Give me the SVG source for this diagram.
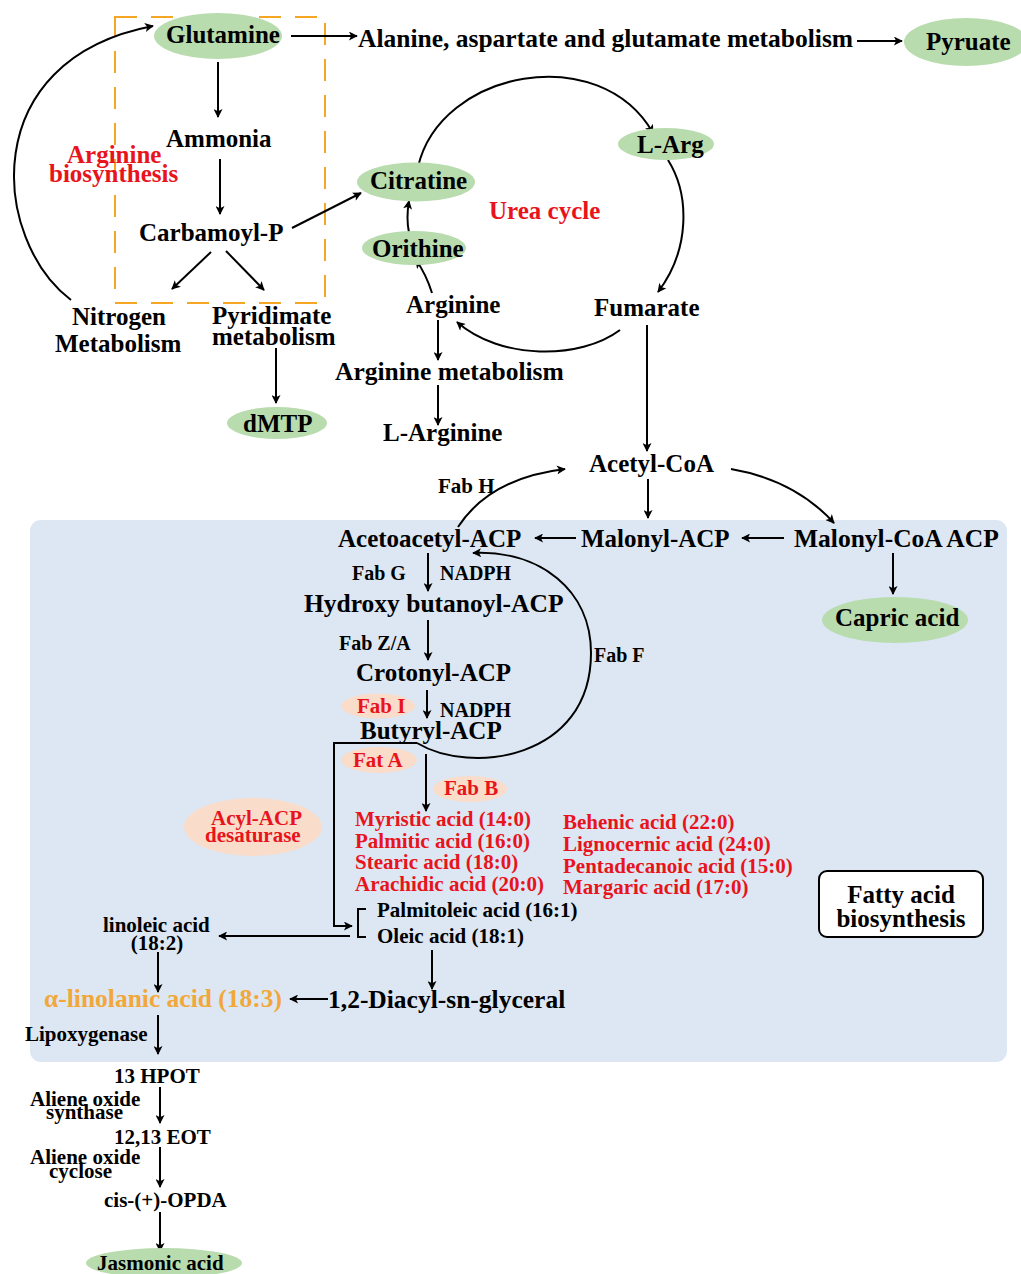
<svg xmlns="http://www.w3.org/2000/svg" width="1021" height="1274" viewBox="0 0 1021 1274">
<style>
text{font-family:"Liberation Serif","Times New Roman",serif;font-weight:bold;fill:#000}
.s25{font-size:25px}.s255{font-size:25.5px}.s21{font-size:21px}.s20{font-size:20px}
.red{fill:#e8141c}.org{fill:#f2a73a}
.g{fill:#b8dcae}.p{fill:#fadccb}
.c{stroke:#000;stroke-width:2;fill:none;marker-end:url(#ah)}
.l{stroke:#000;stroke-width:2;fill:none}
</style>
<defs>
<marker id="ah" viewBox="0 0 10 10" refX="9" refY="5" markerWidth="5" markerHeight="4.5" orient="auto" markerUnits="strokeWidth">
<path d="M0,0 L10,5 L0,10 L2.5,5 z" fill="#000"/>
</marker>
</defs>
<rect id="fatty-region" x="30" y="520" width="977" height="542" rx="11" fill="#dce7f3"/>
<rect id="arginine-region" x="115" y="17" width="210" height="286" fill="none" stroke="#f5a623" stroke-width="2" stroke-dasharray="22 14"/>

<g id="connectors">
<path class="c" d="M291,36 L357,36"/>
<path class="c" d="M857,41 L902,41"/>
<path class="c" d="M218,62 L218,117"/>
<path class="c" d="M220,159 L220,214"/>
<path class="c" d="M211,252 L172,289"/>
<path class="c" d="M226,251 L264,290"/>
<path class="c" d="M276,348 L276,403"/>
<path class="c" d="M71,300 C -8,240 -25,60 153,26"/>
<path class="c" d="M292,228 L361,193"/>
<path class="c" d="M409,233 Q 406,218 409,201"/>
<path class="c" d="M432,293 Q 426,274 416,260"/>
<path class="c" d="M418,167 C 440,70 600,40 653,133"/>
<path class="c" d="M668,160 C 690,195 690,250 658,292"/>
<path class="c" d="M620,330 C 580,360 500,360 457,322"/>
<path class="c" d="M438,320 L438,360"/>
<path class="c" d="M438,385 L438,425"/>
<path class="c" d="M647,325 L647,451"/>
<path class="c" d="M648,479 L648,518"/>
<path class="c" d="M731,469 Q 795,480 834,523"/>
<path class="c" d="M458,527 Q 490,478 565,469"/>
<path class="c" d="M576,538 L535,538"/>
<path class="c" d="M784,538 L742,538"/>
<path class="c" d="M893,553 L893,594"/>
<path class="c" d="M428,553 L428,591"/>
<path class="c" d="M428,620 L428,660"/>
<path class="c" d="M427,690 L427,718"/>
<path class="c" d="M417,743 C 470,775 591,760 591,653 C 591,590 540,550 473,553"/>
<path class="c" d="M426,754 L426,811"/>
<path class="c" d="M417,743 L334,743 L334,926 L352,926"/>
<path class="l" d="M366,909 L358,909 L358,937 L366,937"/>
<path class="c" d="M350,936 L219,936"/>
<path class="c" d="M158,952 L158,992"/>
<path class="c" d="M328,999 L290,999"/>
<path class="c" d="M432,950 L432,989"/>
<path class="c" d="M158,1015 L158,1054"/>
<path class="c" d="M160,1087 L160,1123"/>
<path class="c" d="M160,1147 L160,1187"/>
<path class="c" d="M160,1212 L160,1251"/>
</g>

<g id="glutamine"><ellipse class="g" cx="218" cy="36" rx="64" ry="23"/><text class="s25" x="166" y="43">Glutamine</text></g>
<g id="alanine-metabolism"><text class="s255" x="358" y="47">Alanine, aspartate and glutamate metabolism</text></g>
<g id="pyruate"><ellipse class="g" cx="966" cy="42" rx="62" ry="24"/><text class="s25" x="926" y="50">Pyruate</text></g>
<g id="ammonia"><text class="s25" x="166" y="147">Ammonia</text></g>
<g id="carbamoyl-p"><text class="s25" x="139" y="241">Carbamoyl-P</text></g>
<g id="arginine-biosynthesis-label"><text class="s25 red" x="67" y="163">Arginine</text><text class="s25 red" x="49" y="182">biosynthesis</text></g>
<g id="nitrogen-metabolism"><text class="s25" x="72" y="325">Nitrogen</text><text class="s25" x="55" y="352">Metabolism</text></g>
<g id="pyridimate-metabolism"><text class="s25" x="212" y="324">Pyridimate</text><text class="s25" x="212" y="345">metabolism</text></g>
<g id="dmtp"><ellipse class="g" cx="277" cy="423" rx="50" ry="16"/><text class="s25" x="243" y="432">dMTP</text></g>
<g id="citratine"><ellipse class="g" cx="416" cy="182" rx="59" ry="19.5"/><text class="s25" x="370" y="189">Citratine</text></g>
<g id="orithine"><ellipse class="g" cx="414" cy="248" rx="52" ry="17"/><text class="s25" x="372" y="257">Orithine</text></g>
<g id="l-arg"><ellipse class="g" cx="666" cy="144" rx="48" ry="16"/><text class="s25" x="637" y="153">L-Arg</text></g>
<g id="urea-cycle-label"><text class="s25 red" x="489" y="219">Urea cycle</text></g>
<g id="arginine"><text class="s25" x="406" y="313">Arginine</text></g>
<g id="fumarate"><text class="s25" x="594" y="316">Fumarate</text></g>
<g id="arginine-metabolism"><text class="s255" x="335" y="380">Arginine metabolism</text></g>
<g id="l-arginine"><text class="s25" x="383" y="441">L-Arginine</text></g>
<g id="acetyl-coa"><text class="s25" x="589" y="472">Acetyl-CoA</text></g>
<g id="fab-h"><text class="s21" x="438" y="493">Fab H</text></g>
<g id="acetoacetyl-acp"><text class="s25" x="338" y="547">Acetoacetyl-ACP</text></g>
<g id="malonyl-acp"><text class="s25" x="581" y="547">Malonyl-ACP</text></g>
<g id="malonyl-coa-acp"><text class="s255" x="794" y="547">Malonyl-CoA ACP</text></g>
<g id="capric-acid"><ellipse class="g" cx="895" cy="620" rx="73" ry="23"/><text class="s25" x="835" y="626">Capric acid</text></g>
<g id="fab-g"><text class="s20" x="352" y="580">Fab G</text><text class="s20" x="440" y="580">NADPH</text></g>
<g id="hydroxy-butanoyl-acp"><text class="s255" x="304" y="612">Hydroxy butanoyl-ACP</text></g>
<g id="fab-za"><text class="s20" x="339" y="650">Fab Z/A</text></g>
<g id="crotonyl-acp"><text class="s25" x="356" y="681">Crotonyl-ACP</text></g>
<g id="fab-f"><text class="s20" x="594" y="662">Fab F</text></g>
<g id="fab-i"><ellipse class="p" cx="378" cy="706" rx="37" ry="12.5"/><text class="s21 red" x="357" y="713">Fab I</text><text class="s20" x="440" y="717">NADPH</text></g>
<g id="butyryl-acp"><text class="s25" x="360" y="739">Butyryl-ACP</text></g>
<g id="fat-a"><ellipse class="p" cx="379" cy="760" rx="38" ry="13"/><text class="s21 red" x="353" y="767">Fat A</text></g>
<g id="fab-b"><ellipse class="p" cx="470" cy="789" rx="37" ry="13"/><text class="s21 red" x="444" y="795">Fab B</text></g>
<g id="acyl-acp-desaturase"><ellipse class="p" cx="253" cy="827" rx="69" ry="29"/><text class="s21 red" x="211" y="825">Acyl-ACP</text><text class="s21 red" x="205" y="842">desaturase</text></g>
<g id="saturated-acids-1">
<text class="s21 red" x="355" y="826">Myristic acid (14:0)</text>
<text class="s21 red" x="355" y="848">Palmitic acid (16:0)</text>
<text class="s21 red" x="355" y="869">Stearic acid (18:0)</text>
<text class="s21 red" x="355" y="891">Arachidic acid (20:0)</text>
</g>
<g id="saturated-acids-2">
<text class="s21 red" x="563" y="829">Behenic acid (22:0)</text>
<text class="s21 red" x="563" y="851">Lignocernic acid (24:0)</text>
<text class="s21 red" x="563" y="873">Pentadecanoic acid (15:0)</text>
<text class="s21 red" x="563" y="894">Margaric acid (17:0)</text>
</g>
<g id="unsaturated-acids"><text class="s21" x="377" y="917">Palmitoleic acid (16:1)</text><text class="s21" x="377" y="943">Oleic acid (18:1)</text></g>
<g id="linoleic-acid"><text class="s21" x="103" y="932">linoleic acid</text><text class="s21" x="157" y="950" text-anchor="middle">(18:2)</text></g>
<g id="alpha-linolanic-acid"><text class="s255 org" x="44" y="1007">α-linolanic acid (18:3)</text></g>
<g id="diacyl-glyceral"><text class="s255" x="328" y="1008">1,2-Diacyl-sn-glyceral</text></g>
<g id="lipoxygenase"><text class="s21" x="25" y="1041">Lipoxygenase</text></g>
<g id="fatty-acid-biosynthesis-label"><rect x="819" y="871" width="164" height="66" rx="8" fill="#fff" stroke="#000" stroke-width="2"/><text class="s25" x="901" y="903" text-anchor="middle">Fatty acid</text><text class="s25" x="901" y="927" text-anchor="middle">biosynthesis</text></g>
<g id="hpot"><text class="s21" x="114" y="1083">13 HPOT</text></g>
<g id="aos"><text class="s21" x="30" y="1106">Aliene oxide</text><text class="s21" x="46" y="1119">synthase</text></g>
<g id="eot"><text class="s21" x="114" y="1144">12,13 EOT</text></g>
<g id="aoc"><text class="s21" x="30" y="1164">Aliene oxide</text><text class="s21" x="49" y="1178">cyclose</text></g>
<g id="opda"><text class="s21" x="104" y="1207">cis-(+)-OPDA</text></g>
<g id="jasmonic-acid"><ellipse class="g" cx="164" cy="1263" rx="78" ry="15"/><text class="s21" x="97" y="1270">Jasmonic acid</text></g>
</svg>
